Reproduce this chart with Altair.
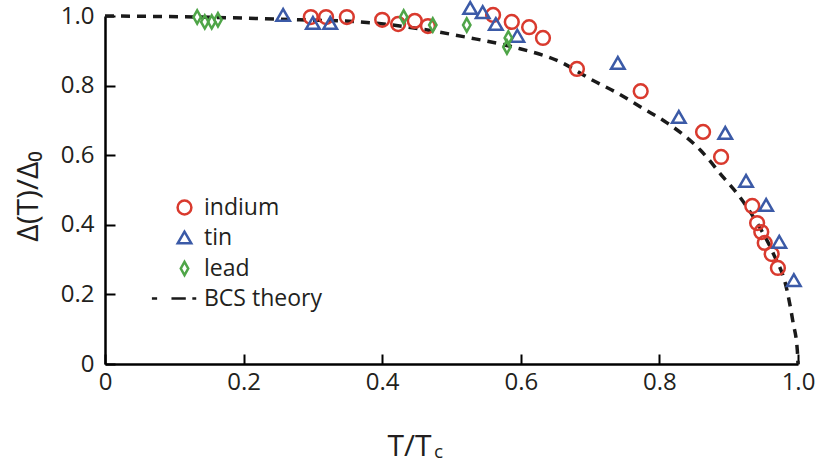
import altair as alt
import pandas as pd

# ---- data ----
indium_t = [0.297, 0.319, 0.349, 0.400, 0.423, 0.447, 0.466, 0.560, 0.587, 0.612, 0.632,
            0.681, 0.773, 0.863, 0.889, 0.934, 0.941, 0.947, 0.952, 0.962, 0.971]
indium_d = [0.997, 0.997, 0.997, 0.989, 0.977, 0.986, 0.971, 1.003, 0.983, 0.968, 0.937,
            0.848, 0.784, 0.667, 0.595, 0.454, 0.405, 0.379, 0.348, 0.316, 0.276]

tin_t = [0.257, 0.300, 0.325, 0.527, 0.545, 0.564, 0.595, 0.740, 0.828, 0.895, 0.925,
         0.954, 0.973, 0.994]
tin_d = [1.003, 0.980, 0.980, 1.023, 1.011, 0.977, 0.943, 0.865, 0.710, 0.664, 0.526,
         0.457, 0.351, 0.241]

lead_t = [0.133, 0.144, 0.154, 0.163, 0.431, 0.473, 0.522, 0.582, 0.580]
lead_d = [0.997, 0.983, 0.983, 0.989, 0.997, 0.974, 0.974, 0.937, 0.911]

bcs_t = [0.0, 0.137, 0.281, 0.368, 0.455, 0.519, 0.589, 0.657, 0.703, 0.739, 0.775,
         0.811, 0.859, 0.892, 0.916, 0.941, 0.964, 0.984, 0.993, 0.999, 1.0]
bcs_d = [1.0, 0.997, 0.989, 0.983, 0.963, 0.940, 0.911, 0.868, 0.816, 0.779, 0.736,
         0.693, 0.615, 0.537, 0.480, 0.405, 0.319, 0.213, 0.118, 0.040, 0.0]

series = ["indium", "tin", "lead", "BCS theory"]
tick_values = [0, 0.2, 0.4, 0.6, 0.8, 1.0]

# ---- tables ----
rows = []
for name, ts, ds in [("indium", indium_t, indium_d), ("tin", tin_t, tin_d), ("lead", lead_t, lead_d)]:
    rows += [{"t": t, "d": d, "metal": name} for t, d in zip(ts, ds)]
pts = pd.DataFrame(rows)
bcs = pd.DataFrame({"t": bcs_t, "d": bcs_d})

FONT = "Open Sans"
INK = "#231f20"

diamond = "M0,-1L0.56,0L0,1L-0.56,0Z"
dash_sym = "M-5,0H-4.2M-2,0H0.2M1.2,0H1.8"

xscale = alt.Scale(domain=[0, 1], nice=False, zero=False)
yscale = alt.Scale(domain=[0, 1], nice=False, zero=False)

label_expr = "datum.value == 0 ? '0' : format(datum.value, '.1f')"

xaxis = alt.Axis(values=tick_values, labelExpr=label_expr, title="T/T",
                 titleX=282, titleY=91, titleAlign="left", titleBaseline="alphabetic",
                 titleFontSize=30, labelPadding=16, labelFlush=False, labelOverlap=False,
                 grid=False)
yaxis = alt.Axis(values=tick_values, labelExpr=label_expr, title="Δ(T)/Δ₀",
                 titleX=-68, titleY=180, titleAngle=270, titleAlign="center",
                 titleBaseline="alphabetic", titleFontSize=30, labelPadding=21,
                 labelFlush=False, labelOverlap=False, grid=False)

line = alt.Chart(bcs).mark_line(color="#1a1a1a", strokeWidth=3.5, strokeDash=[9, 7],
                                 interpolate="monotone").encode(
    x=alt.X("t:Q", scale=xscale, axis=xaxis),
    y=alt.Y("d:Q", scale=yscale, axis=yaxis),
    order=alt.Order("t:Q"),
)

legend = alt.Legend(title=None, orient="none", legendX=68, legendY=180,
                    labelFont=FONT, labelFontSize=23, labelColor=INK, labelOffset=8,
                    symbolStrokeWidth=2.5, rowPadding=6, padding=0)

points = alt.Chart(pts).mark_point(filled=False, strokeWidth=2.5, opacity=1).encode(
    x="t:Q",
    y="d:Q",
    color=alt.Color("metal:N", sort=series,
                    scale=alt.Scale(domain=series, range=["#d93a2e", "#3b5aa7", "#4fa548", "#1a1a1a"]),
                    legend=legend),
    shape=alt.Shape("metal:N", sort=series,
                    scale=alt.Scale(domain=series, range=["circle", "triangle-up", diamond, dash_sym]),
                    legend=legend),
    size=alt.Size("metal:N", sort=series,
                  scale=alt.Scale(domain=series, range=[190, 170, 330, 100]),
                  legend=legend),
)

sub_c = alt.Chart(pd.DataFrame({"s": ["c"]})).mark_text(
    font=FONT, fontSize=19, color=INK, align="left", baseline="alphabetic"
).encode(x=alt.value(329), y=alt.value(442), text="s:N")

chart = alt.layer(line, points, sub_c).properties(
    width=693, height=348,
    autosize=alt.AutoSizeParams(type="none"),
    padding={"left": 105, "top": 16, "right": 18, "bottom": 100},
).configure_view(stroke=None).configure_axis(
    domainColor="black", domainWidth=2.5, tickColor="black", tickWidth=2,
    tickSize={"expr": "-10"},
    labelFont=FONT, labelFontSize=24, labelColor=INK,
    titleFont=FONT, titleColor=INK, titleFontWeight="normal",
)

chart.save("out.html", embed_options={"renderer": "svg", "actions": False})
